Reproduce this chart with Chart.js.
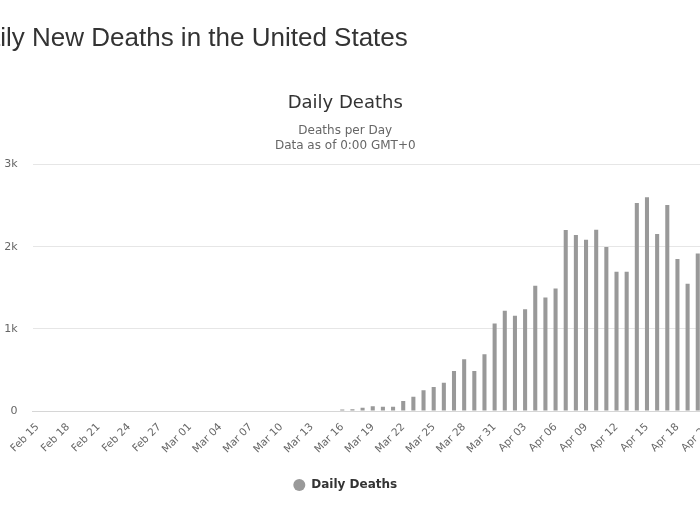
<!DOCTYPE html>
<html>
<head>
<meta charset="utf-8">
<script src="https://cdn.jsdelivr.net/npm/chart.js@4.4.0/dist/chart.umd.min.js"></script>
<style>
    html, body { margin: 0; padding: 0; background: #fff; width: 700px; height: 525px; overflow: hidden; }
    #pageTitle {
        position: absolute; left: -33px; top: 23px; margin: 0; z-index: 2;
        font: normal 26px/29px "Liberation Sans", Arial, sans-serif;
        color: #333; white-space: nowrap;
    }
    #chart-daily { position: absolute; left: -30px; top: 0; }
</style>
</head>
<body>
<h1 id="pageTitle">Daily New Deaths in the United States</h1>
<canvas id="chart-daily" width="758" height="525"></canvas>
<script>
// Data
const dates = [
    "Feb 15", "Feb 16", "Feb 17", "Feb 18", "Feb 19", "Feb 20", "Feb 21", "Feb 22", "Feb 23", "Feb 24",
    "Feb 25", "Feb 26", "Feb 27", "Feb 28", "Feb 29", "Mar 01", "Mar 02", "Mar 03", "Mar 04", "Mar 05",
    "Mar 06", "Mar 07", "Mar 08", "Mar 09", "Mar 10", "Mar 11", "Mar 12", "Mar 13", "Mar 14", "Mar 15",
    "Mar 16", "Mar 17", "Mar 18", "Mar 19", "Mar 20", "Mar 21", "Mar 22", "Mar 23", "Mar 24", "Mar 25",
    "Mar 26", "Mar 27", "Mar 28", "Mar 29", "Mar 30", "Mar 31", "Apr 01", "Apr 02", "Apr 03", "Apr 04",
    "Apr 05", "Apr 06", "Apr 07", "Apr 08", "Apr 09", "Apr 10", "Apr 11", "Apr 12", "Apr 13", "Apr 14",
    "Apr 15", "Apr 16", "Apr 17", "Apr 18", "Apr 19", "Apr 20", "Apr 21"
];

const dailyDeaths = [
    0, 0, 0, 0, 0, 0, 0, 0, 0, 0,
    0, 0, 0, 0, 0, 0, 0, 0, 0, 0,
    0, 0, 0, 0, 0, 0, 0, 0, 0, 0,
    18, 22, 40, 57, 52, 52, 122, 175, 252, 293,
    345, 488, 630, 488, 691, 1065, 1220, 1159, 1240, 1524,
    1382, 1492, 2203, 2142, 2085, 2207, 1996, 1695, 1695, 2533,
    2602, 2154, 2508, 1850, 1549, 1919, null
];

const yTicks = [0, 1000, 2000, 3000];

const FONT = '"DejaVu Sans", "Lucida Grande", Verdana, sans-serif';

// y labels: 0, 1k, 2k, 3k
function yLabel(value) {
    return value === 0 ? '0' : (value / 1000) + 'k';
}

// only every third date gets a label
function xLabel(value, index) {
    return index % 3 === 0 ? this.getLabelForValue(value) : '';
}

function createDeathsChart(canvasID) {
    const ctx = document.getElementById(canvasID).getContext('2d');

    return new Chart(ctx, {
        type: 'bar',
        data: {
            labels: dates,
            datasets: [{
                label: 'Daily Deaths',
                data: dailyDeaths,
                backgroundColor: '#999999',
                borderWidth: 0,
                categoryPercentage: 0.4,
                barPercentage: 1
            }]
        },
        options: {
            responsive: false,
            animation: false,
            layout: {
                padding: { top: 0, left: 7.5, right: 15, bottom: 24 }
            },
            plugins: {
                title: {
                    display: true,
                    text: 'Daily Deaths',
                    color: '#333333',
                    font: { family: FONT, size: 18, weight: 'normal' },
                    padding: { top: 93, bottom: 9 }
                },
                subtitle: {
                    display: true,
                    text: ['Deaths per Day', 'Data as of 0:00 GMT+0'],
                    color: '#666666',
                    font: { family: FONT, size: 12, lineHeight: 1.25 },
                    padding: { top: 0, bottom: 11 }
                },
                legend: {
                    position: 'bottom',
                    labels: {
                        usePointStyle: true,
                        boxWidth: 14,
                        boxHeight: 8.5,
                        color: '#333333',
                        font: { family: FONT, size: 12, weight: 'bold' }
                    }
                },
                tooltip: { enabled: false }
            },
            scales: {
                x: {
                    grid: { display: false, drawTicks: false },
                    border: { display: true, color: '#d6d6d6' },
                    ticks: {
                        autoSkip: false,
                        minRotation: 45,
                        maxRotation: 45,
                        padding: 10,
                        color: '#666666',
                        font: { family: FONT, size: 10.5 },
                        callback: xLabel
                    },
                    afterFit: function(scale) { scale.height = 58; }
                },
                y: {
                    min: 0,
                    max: 3000,
                    afterBuildTicks: function(scale) {
                        scale.ticks = yTicks.map(v => ({ value: v }));
                    },
                    grid: { color: '#e6e6e6', drawTicks: false },
                    border: { display: false },
                    ticks: {
                        padding: 15,
                        color: '#666666',
                        font: { family: FONT, size: 11 },
                        callback: yLabel
                    },
                    afterFit: function(scale) { scale.width = 55; }
                }
            }
        }
    });
}

const deathsChart = createDeathsChart('chart-daily');
</script>
</body>
</html>
